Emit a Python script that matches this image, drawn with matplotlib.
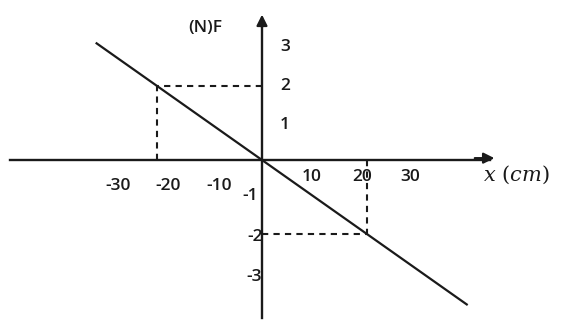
import matplotlib
matplotlib.use("Agg")
import matplotlib.pyplot as plt
import numpy as np

# data
line_x = [-31.5, 39.0]          # extent of the F(x) line (cm)
slope = -0.1                    # N per cm
marked_x = [-20, 20]            # dashed guide points (cm)
marked_f = [2, -2]              # N
xtick_pos = [-30, -20, -10, 10, 20, 30]
xtick_labels = ["-30", "-20", "-10", "10", "20", "30"]
ytick_pos = [3, 2, 1, -1, -2, -3]
ytick_labels = ["3", "2", "1", "-1", "-2", "-3"]

fig = plt.figure(figsize=(5.61, 3.2), dpi=100)
ax = fig.add_axes([0, 0, 1, 1])
ax.set_xlim(-49.9, 56.95)
ax.set_ylim(-4.32, 4.32)
ax.axis("off")

ink = "#1a1a1a"
# axes
ax.plot([-48, 43.5], [0, 0], color=ink, lw=1.7)
ax.annotate("", xy=(44.8, 0.05), xytext=(40, 0.05),
            arrowprops=dict(arrowstyle="-|>", color=ink, lw=1.6, mutation_scale=16))
ax.plot([0, 0], [-4.27, 3.7], color=ink, lw=1.7)
ax.annotate("", xy=(0, 4.0), xytext=(0, 3.5),
            arrowprops=dict(arrowstyle="-|>", color=ink, lw=1.6, mutation_scale=16))

# line
lx = np.array(line_x)
ax.plot(lx, slope * lx, color=ink, lw=1.6)

# dashed guides
for mx, mf in zip(marked_x, marked_f):
    ax.plot([mx, mx], [0, mf], color=ink, lw=1.5, ls=(0, (3, 2.5)))
    ax.plot([0, mx], [mf, mf], color=ink, lw=1.5, ls=(0, (3, 2.5)))

# tick labels
fs = 12.5
fw = "semibold"
fam = ["Open Sans", "DejaVu Sans"]
xlab_pos = {-30: (-27.4, -0.7), -20: (-17.9, -0.7), -10: (-8.2, -0.7),
            10: (9.5, -0.46), 20: (19.0, -0.46), 30: (28.2, -0.46)}
for p, t in zip(xtick_pos, xtick_labels):
    px, py = xlab_pos[p]
    ax.text(px, py, t, ha="center", va="center", fontsize=fs, color=ink,
            family=fam, fontweight=fw)
ylab_x = {3: 4.4, 2: 4.4, 1: 4.4, -1: -2.3, -2: -1.3, -3: -1.5}
ylab_y = {3: 3.05, 2: 2.0, 1: 0.95, -1: -0.97, -2: -2.08, -3: -3.16}
for p, t in zip(ytick_pos, ytick_labels):
    ax.text(ylab_x[p], ylab_y[p], t, ha="center", va="center", fontsize=fs,
            color=ink, family=fam, fontweight=fw)

ax.text(-10.9, 3.57, "(N)F", ha="center", va="center", fontsize=fs, color=ink,
        family=fam, fontweight=fw)
ax.text(48.5, -0.4, "$x\\ (cm)$", ha="center", va="center", fontsize=15,
        color=ink, math_fontfamily="dejavuserif")

fig.savefig("out.png", dpi=100, facecolor="white")
